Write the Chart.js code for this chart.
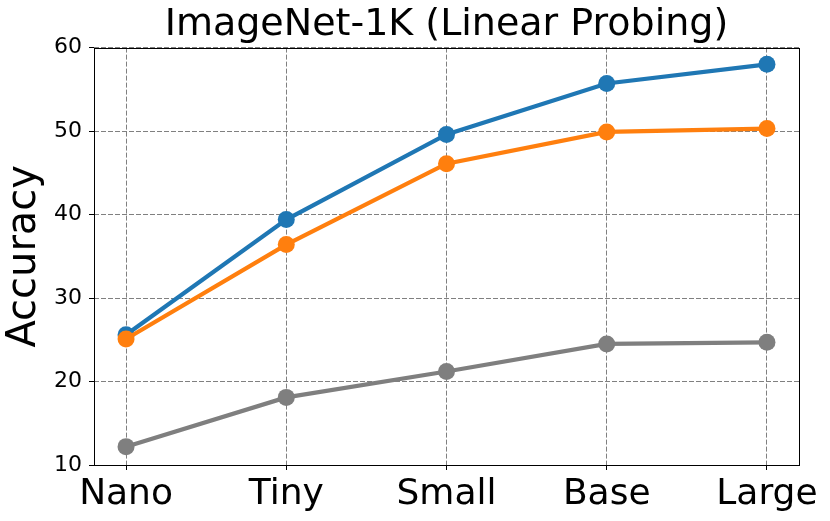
<!DOCTYPE html>
<html>
<head>
<meta charset="utf-8">
<script src="https://cdn.jsdelivr.net/npm/chart.js@4/dist/chart.umd.min.js"></script>
<style>
  html, body { margin: 0; padding: 0; background: #fff; }
  #wrap { width: 830px; height: 521px; position: relative; }
</style>
</head>
<body>
<div id="wrap"><canvas id="chart"></canvas></div>
<script>
const sizes = ['Nano', 'Tiny', 'Small', 'Base', 'Large'];
const blueAcc = [25.6, 39.4, 49.6, 55.7, 58.0];
const orangeAcc = [25.1, 36.4, 46.1, 49.9, 50.3];
const grayAcc = [12.2, 18.1, 21.2, 24.5, 24.7];
const yTicks = [10, 20, 30, 40, 50, 60];

const FONT = "'DejaVu Sans', sans-serif";

const toPoints = (vals) => vals.map((v, i) => ({ x: i, y: v }));

const series = (data, color, order) => ({
    data: toPoints(data),
    borderColor: color,
    backgroundColor: color,
    borderWidth: 4.2,
    pointRadius: 8.5,
    pointHoverRadius: 8.5,
    pointBorderWidth: 0,
    tension: 0,
    order,
});

// black box round the plot area, like matplotlib spines
const frame = {
    id: 'frame',
    afterDraw(chart) {
        const { ctx, chartArea: a } = chart;
        ctx.save();
        ctx.strokeStyle = '#000';
        ctx.lineWidth = 1;
        ctx.strokeRect(Math.round(a.left) + 0.5, Math.round(a.top) + 0.5,
            Math.round(a.right - a.left), Math.round(a.bottom - a.top));
        ctx.restore();
    },
};

const grid = {
    color: '#808080',
    lineWidth: 1,
    tickColor: '#000',
    tickLength: 5,
    tickWidth: 1,
};

new Chart(document.getElementById('chart'), {
    type: 'line',
    data: {
        datasets: [
            series(blueAcc, '#1f77b4', 3),
            series(orangeAcc, '#ff7f0e', 2),
            series(grayAcc, '#7f7f7f', 1),
        ],
    },
    options: {
        responsive: true,
        maintainAspectRatio: false,
        animation: false,
        devicePixelRatio: 1,
        layout: { padding: { left: 0, right: 31, top: 0, bottom: 0 } },
        plugins: {
            legend: { display: false },
            tooltip: { enabled: false },
            title: {
                display: true,
                text: 'ImageNet-1K (Linear Probing)',
                color: '#000',
                fullSize: false,
                font: { family: FONT, size: 38, weight: 'normal', lineHeight: 1.2 },
                padding: { top: 2, bottom: 0 },
            },
        },
        scales: {
            x: {
                type: 'linear',
                min: -0.2,
                max: 4.2,
                afterBuildTicks: (scale) => {
                    scale.ticks = sizes.map((_, i) => ({ value: i }));
                },
                afterFit: (scale) => { scale.height = 56; },
                grid,
                border: { display: false, dash: [5, 2] },
                ticks: {
                    color: '#000',
                    autoSkip: false,
                    maxRotation: 0,
                    padding: 3,
                    font: { family: FONT, size: 36 },
                    callback: (v) => sizes[v],
                },
            },
            y: {
                min: 10,
                max: 60,
                afterBuildTicks: (scale) => {
                    scale.ticks = yTicks.map((v) => ({ value: v }));
                },
                afterFit: (scale) => { scale.width = 94; },
                grid,
                border: { display: false, dash: [5, 2] },
                title: {
                    display: true,
                    text: 'Accuracy',
                    color: '#000',
                    font: { family: FONT, size: 40, lineHeight: 1.2 },
                    padding: { top: 1, bottom: 0 },
                },
                ticks: {
                    color: '#000',
                    padding: 7,
                    font: { family: FONT, size: 22 },
                },
            },
        },
    },
    plugins: [frame],
});
</script>
</body>
</html>
